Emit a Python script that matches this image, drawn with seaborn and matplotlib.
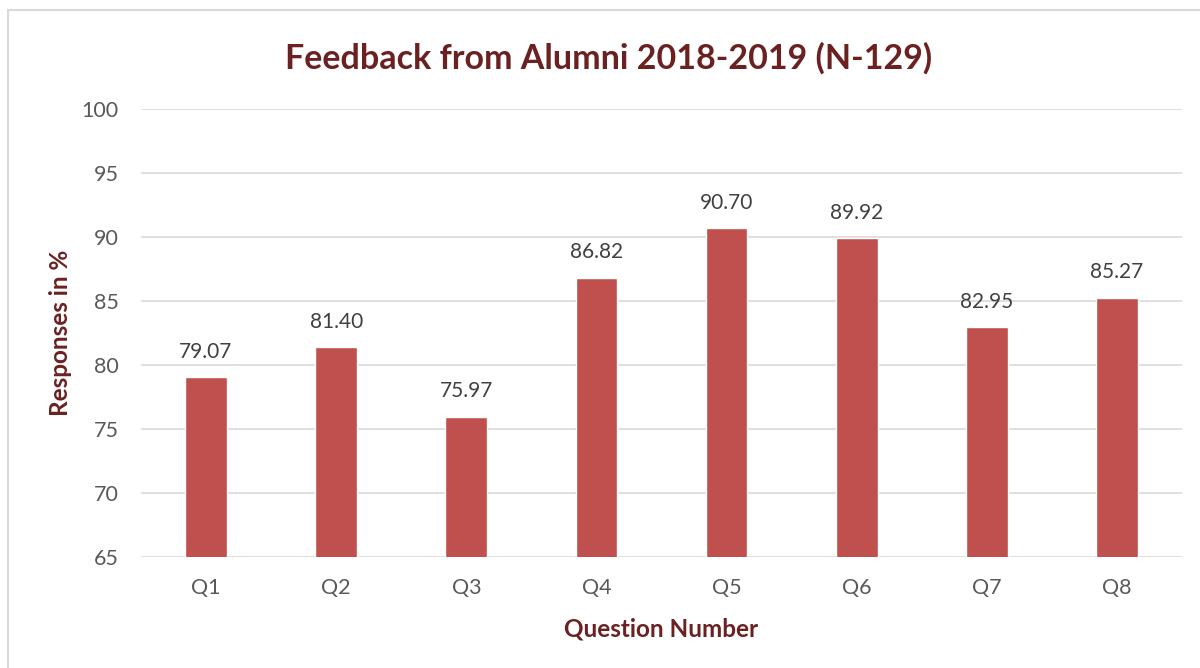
import matplotlib
matplotlib.use("Agg")
import matplotlib.pyplot as plt
import seaborn as sns
import pandas as pd
from matplotlib.patches import Rectangle

# chart data
questions = ["Q1", "Q2", "Q3", "Q4", "Q5", "Q6", "Q7", "Q8"]
responses = [79.07, 81.40, 75.97, 86.82, 90.70, 89.92, 82.95, 85.27]
yticks = [65, 70, 75, 80, 85, 90, 95, 100]

df = pd.DataFrame({"Question": questions, "Response": responses})

sns.set_theme(style="white")
plt.rcParams["font.family"] = ["Lato", "DejaVu Sans"]

fig = plt.figure(figsize=(12, 6.68), dpi=100)
ax = fig.add_axes([0.1175, 0.1662, 0.8675, 0.6706])

sns.barplot(data=df, x="Question", y="Response", color="#C0504D",
            width=0.32, saturation=1, ax=ax, zorder=3)

ax.set_ylim(65, 100)
ax.set_yticks(yticks)
ax.yaxis.grid(True, color="#D9D9D9", linewidth=1.2, zorder=0)
ax.set_axisbelow(True)
for s in ax.spines.values():
    s.set_visible(False)
ax.tick_params(axis="both", length=0, labelsize=15.5, colors="#595959")
ax.tick_params(axis="y", pad=16)
ax.tick_params(axis="x", pad=15)

for i, v in enumerate(responses):
    ax.text(i, v + 1.2, f"{v:.2f}", ha="center", va="bottom",
            fontsize=15, color="#404040")

ax.set_xlabel("Question Number", fontsize=17.5, fontweight="bold",
              color="#6B2121", labelpad=14)
ax.set_ylabel("Responses in %", fontsize=17.5, fontweight="bold",
              color="#6B2121", labelpad=7)
fig.text(0.507, 0.913, "Feedback from Alumni 2018-2019 (N-129)",
         ha="center", va="center", fontsize=24.5, fontweight="bold",
         color="#6B2121")

# outer chart border
fig.patches.append(Rectangle((8 / 1200, -0.1), 1.2, 1 - 10 / 668 + 0.1,
                             transform=fig.transFigure, fill=False,
                             edgecolor="#D9D9D9", linewidth=1.5))

fig.savefig("out.png", dpi=100)
